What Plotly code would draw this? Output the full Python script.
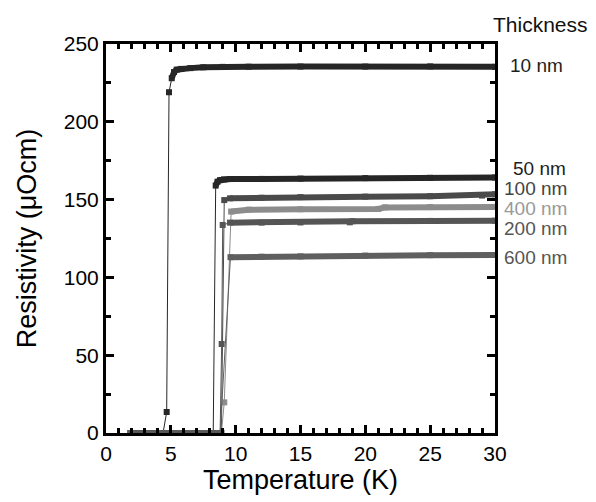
import plotly.graph_objects as go

# ---------------- data ----------------
labels = ["10 nm", "50 nm", "100 nm", "200 nm", "400 nm", "600 nm"]

T_10nm = [1.9, 2.5, 3.0, 3.5, 4.0, 4.4, 4.68, 4.86, 5.07, 5.25, 5.45, 5.8, 6.5, 7.5, 9.0, 11.0, 15.0, 20.0, 25.0, 30.0]
R_10nm = [0, 0, 0, 0, 0, 0, 13.5, 219, 228, 232, 233.5, 234, 234.5, 235, 235.3, 235.4, 235.5, 235.5, 235.6, 235.3]

T_50nm = [1.9, 3.0, 4.0, 5.0, 6.0, 7.0, 8.0, 8.27, 8.46, 8.6, 8.8, 9.1, 9.56, 12.0, 15.0, 20.0, 25.0, 30.0]
R_50nm = [0, 0, 0, 0, 0, 0, 0, 0, 159, 161.5, 162.5, 163, 163.2, 163.3, 163.5, 163.8, 164.0, 164.2]

T_100nm = [1.9, 3.0, 4.0, 5.0, 6.0, 7.0, 8.0, 8.9, 9.12, 9.56, 12.0, 15.0, 20.0, 25.0, 29.0, 30.0]
R_100nm = [0, 0, 0, 0, 0, 0, 0, 0, 149.7, 150.8, 151.2, 151.6, 151.9, 152.2, 152.6, 153.4]

T_200nm = [1.9, 3.0, 4.0, 5.0, 6.0, 7.0, 8.0, 8.8, 8.92, 9.0, 9.56, 12.0, 15.0, 18.8, 19.0, 25.0, 30.0]
R_200nm = [0, 0, 0, 0, 0, 0, 0, 0, 57.2, 133.7, 135.2, 135.2, 135.3, 135.4, 136.1, 136.3, 136.4]

T_400nm = [1.9, 3.0, 4.0, 5.0, 6.0, 7.0, 8.0, 8.9, 9.12, 9.65, 11.0, 15.0, 21.0, 21.5, 25.0, 30.0]
R_400nm = [0, 0, 0, 0, 0, 0, 0, 0, 19.7, 142.3, 143.5, 143.8, 144.0, 145.0, 145.2, 145.3]

T_600nm = [1.9, 3.0, 4.0, 5.0, 6.0, 7.0, 8.0, 8.8, 9.6, 12.0, 15.0, 20.0, 25.0, 30.0]
R_600nm = [0, 0, 0, 0, 0, 0, 0, 0, 113.0, 113.3, 113.5, 114.0, 114.3, 114.4]

plateau_from = [5.0, 8.4, 9.5, 9.5, 9.6, 9.6]

x_ticks = [0, 5, 10, 15, 20, 25, 30]
y_ticks = [0, 50, 100, 150, 200, 250]
x_minor_step = 1
y_minor_step = 25

series = [
    (T_10nm, R_10nm, "#262626", "#1e1e1e"),
    (T_50nm, R_50nm, "#262626", "#1e1e1e"),
    (T_100nm, R_100nm, "#4a4a4a", "#444444"),
    (T_200nm, R_200nm, "#555555", "#555555"),
    (T_400nm, R_400nm, "#8c8c8c", "#999999"),
    (T_600nm, R_600nm, "#5f5f5f", "#555555"),
]
label_y = [0.945, 0.680, 0.628, 0.526, 0.577, 0.452]
label_x = [1.033, 1.041, 1.018, 1.018, 1.018, 1.018]

FONT = "Liberation Sans, Arial, sans-serif"
AXC = "#000000"
xr = [x_ticks[0], x_ticks[-1]]
yr = [y_ticks[0], y_ticks[-1]]

fig = go.Figure()

for (T, R, col, lcol), t0 in zip(series, plateau_from):
    fig.add_trace(go.Scatter(
        x=T, y=R, mode="lines+markers",
        line=dict(color=col, width=1),
        marker=dict(symbol="square", size=6, color=col),
        showlegend=False, hoverinfo="skip"))

for (T, R, col, lcol), t0 in zip(series, plateau_from):
    tp = [t for t in T if t >= t0]
    rp = [r for t, r in zip(T, R) if t >= t0]
    fig.add_trace(go.Scatter(
        x=tp, y=rp, mode="lines",
        line=dict(color=col, width=6),
        showlegend=False, hoverinfo="skip"))

for (T, R, col, lcol), t0 in zip(series, plateau_from):
    tb = [t for t, r in zip(T, R) if r == 0]
    rb = [r for r in R if r == 0]
    fig.add_trace(go.Scatter(
        x=tb, y=rb, mode="lines",
        line=dict(color="#585858", width=5),
        showlegend=False, hoverinfo="skip", cliponaxis=False))

for k in (2, 3, 4):
    fig.add_trace(go.Scatter(
        x=[xr[0]], y=[yr[0]], mode="markers", marker=dict(opacity=0),
        xaxis=f"x{k}", yaxis=f"y{k}", showlegend=False, hoverinfo="skip"))

annotations = [dict(
    text="Thickness", xref="paper", yref="paper", x=1.116, y=1.051,
    showarrow=False, xanchor="center", yanchor="middle",
    font=dict(family=FONT, size=21, color="#111111"))]
for lab, (T, R, col, lcol), lx, ly in zip(labels, series, label_x, label_y):
    annotations.append(dict(
        text=lab, xref="paper", yref="paper", x=lx, y=ly,
        showarrow=False, xanchor="left", yanchor="middle",
        font=dict(family=FONT, size=19, color=lcol)))


def tick_axis(rng, side, overlay, tickvals, length):
    return dict(
        range=rng, side=side, overlaying=overlay, tickmode="array",
        tickvals=tickvals, ticks="inside", ticklen=length, tickwidth=2.5,
        tickcolor=AXC, showticklabels=False, showline=False,
        showgrid=False, zeroline=False, fixedrange=True)


x_minor = [x_ticks[0] + i * x_minor_step
           for i in range(int((x_ticks[-1] - x_ticks[0]) / x_minor_step) + 1)]
y_minor = [y_ticks[0] + i * y_minor_step
           for i in range(int((y_ticks[-1] - y_ticks[0]) / y_minor_step) + 1)]

fig.update_layout(
    width=596, height=502,
    margin=dict(l=106, r=101, t=44, b=69),
    paper_bgcolor="white", plot_bgcolor="white",
    font=dict(family=FONT, color="black"),
    annotations=annotations,
    xaxis2=tick_axis(xr, "bottom", "x", x_minor, 5),
    yaxis2=tick_axis(yr, "left", "y", y_minor, 5),
    xaxis3=tick_axis(xr, "top", "x", x_ticks, 8),
    yaxis3=tick_axis(yr, "right", "y", y_ticks, 8),
    xaxis4=tick_axis(xr, "top", "x", x_minor, 5),
    yaxis4=tick_axis(yr, "right", "y", y_minor, 5),
)
fig.update_xaxes(
    selector=dict(anchor="y"),
    range=xr, tickmode="array", tickvals=x_ticks,
    showline=True, linecolor=AXC, linewidth=3, mirror=True,
    ticks="inside", ticklen=8, tickwidth=2.5, tickcolor=AXC,
    showgrid=False, zeroline=False,
    tickfont=dict(family=FONT, size=21, color="black"),
    title=dict(text="Temperature (K)", font=dict(family=FONT, size=27), standoff=4),
)
fig.update_layout(xaxis=dict(
    range=xr, tickmode="array", tickvals=x_ticks,
    showline=True, linecolor=AXC, linewidth=3, mirror=True,
    ticks="inside", ticklen=8, tickwidth=2.5, tickcolor=AXC,
    showgrid=False, zeroline=False,
    tickfont=dict(family=FONT, size=21, color="black"),
    title=dict(text="Temperature (K)", font=dict(family=FONT, size=27), standoff=4)),
    yaxis=dict(
    range=yr, tickmode="array", tickvals=y_ticks,
    showline=True, linecolor=AXC, linewidth=3, mirror=True,
    ticks="inside", ticklen=8, tickwidth=2.5, tickcolor=AXC,
    showgrid=False, zeroline=False,
    tickfont=dict(family=FONT, size=21, color="black"),
    title=dict(text="Resistivity (μOcm)", font=dict(family=FONT, size=27), standoff=20)))

fig.write_html("out.html")
